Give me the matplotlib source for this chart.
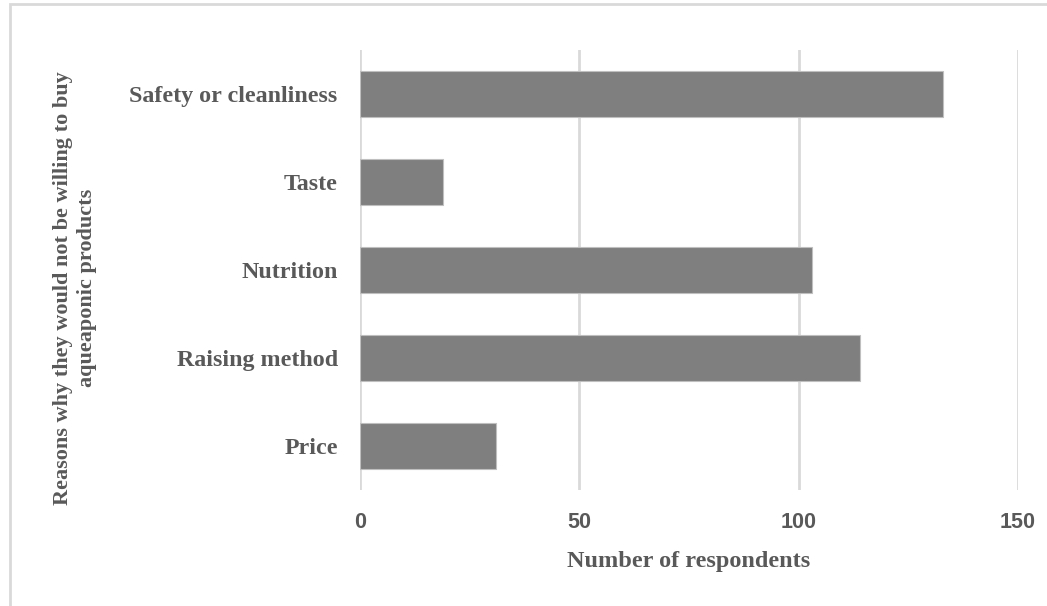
"""
Horizontal bar chart: reasons respondents would not buy aquaponic products.
"""
import matplotlib

matplotlib.use("Agg")
import matplotlib.pyplot as plt  # noqa: E402
from matplotlib.patches import Rectangle  # noqa: E402

reasons = ["Price", "Raising method", "Nutrition", "Taste", "Safety or cleanliness"]
counts = [31, 114, 103, 19, 133]
x_ticks = [0, 50, 100, 150]

TEXT = "#595959"
GRID = "#d9d9d9"
SERIF = ["Liberation Serif", "DejaVu Serif"]
SANS = ["Liberation Sans", "DejaVu Sans"]


def main() -> int:
    fig = plt.figure(figsize=(10.47, 6.06), dpi=100)
    ax = fig.add_axes([0.3438, 0.1914, 0.6285, 0.7261])

    ax.barh(range(len(reasons)), counts, height=0.52, color="#7f7f7f",
            edgecolor="#bfbfbf", linewidth=0.8, zorder=3)

    ax.set_xlim(0, 150)
    ax.set_ylim(-0.5, len(reasons) - 0.5)
    ax.set_xticks(x_ticks)
    ax.set_xticklabels([str(t) for t in x_ticks], family=SANS, fontweight="bold",
                       fontsize=15.5, color=TEXT)
    ax.set_yticks(range(len(reasons)))
    ax.set_yticklabels(reasons, family=SERIF, fontweight="bold", fontsize=17.3, color=TEXT)
    ax.tick_params(axis="both", length=0)
    ax.tick_params(axis="x", pad=16)
    ax.tick_params(axis="y", pad=16)

    ax.grid(True, axis="x", color=GRID, linewidth=2, zorder=0)
    for side in ("top", "right", "bottom", "left"):
        ax.spines[side].set_visible(False)

    ax.set_xlabel("Number of respondents", family=SERIF, fontweight="bold",
                  fontsize=17.5, color=TEXT, labelpad=13)
    fig.text(0.0715, 0.525,
             "Reasons why they would not be willing to buy\naqueaponic products",
             rotation=90, ha="center", va="center", multialignment="center",
             family=SERIF, fontweight="bold", fontsize=16, color=TEXT,
             linespacing=1.3)

    # light chart-area frame, clipped at the right and bottom edges
    fig.patches.append(Rectangle((10 / 1047, -0.05), 1.1, 1 - 3.5 / 606 + 0.05,
                                 transform=fig.transFigure, fill=False,
                                 edgecolor=GRID, linewidth=2))

    fig.savefig("out.png", dpi=100)
    plt.close(fig)
    return 0


if __name__ == "__main__":
    main()
